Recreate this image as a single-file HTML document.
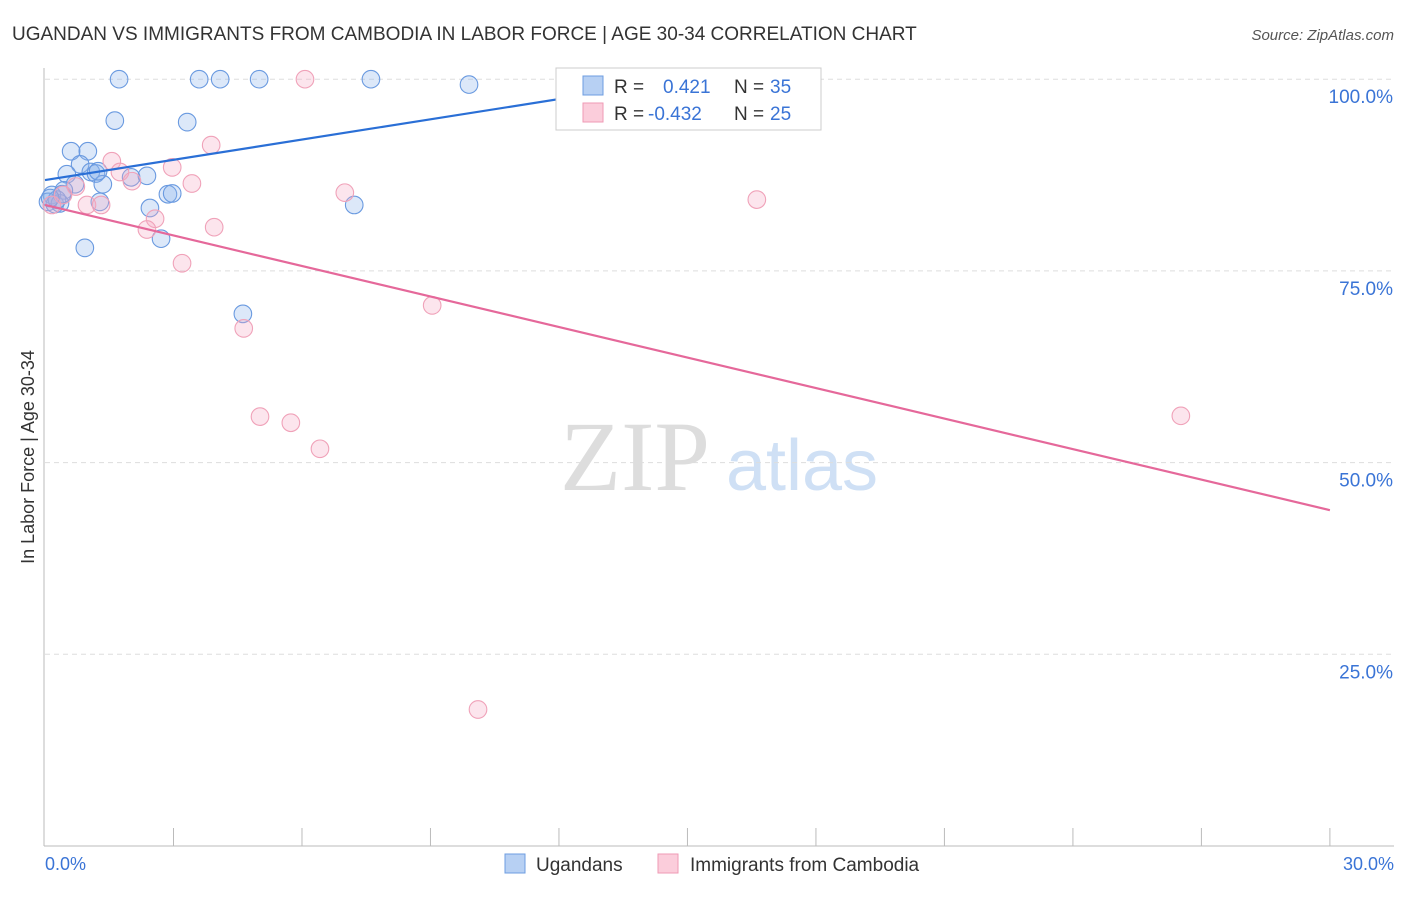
<!DOCTYPE html>
<html><head><meta charset="utf-8"><style>
body{margin:0;background:#fff;font-family:"Liberation Sans",sans-serif}
svg text{font-family:"Liberation Sans",sans-serif}
svg text.serif{font-family:"Liberation Serif",serif}
</style></head><body>
<svg id="chart" width="1406" height="892" xmlns="http://www.w3.org/2000/svg">
<text x="12" y="40" font-size="19" fill="#333">UGANDAN VS IMMIGRANTS FROM CAMBODIA IN LABOR FORCE | AGE 30-34 CORRELATION CHART</text>
<text x="1394" y="40" font-size="15" fill="#555" text-anchor="end" font-style="italic">Source: ZipAtlas.com</text>
<text transform="translate(34,457) rotate(-90)" font-size="18" fill="#333" text-anchor="middle">In Labor Force | Age 30-34</text>
<g><text class="serif" x="635" y="490" font-size="100" fill="#ddd" text-anchor="middle">ZIP</text><text x="802" y="490" font-size="72" fill="#cfe0f5" text-anchor="middle">atlas</text></g>
<g id="grid"></g><g id="ticks"></g><g id="pts"></g><g id="trends"></g>
<g>
<rect x="556" y="68" width="265" height="62" fill="#fff" stroke="#ccc"/>
<rect x="583" y="76" width="20" height="19" fill="#b7d0f3" stroke="#6d9de0"/>
<text x="614" y="93" font-size="19" fill="#333">R =</text><text x="663" y="93" font-size="19" fill="#3a74d6">0.421</text>
<text x="734" y="93" font-size="19" fill="#333">N =</text><text x="770" y="93" font-size="19" fill="#3a74d6">35</text>
<rect x="583" y="103" width="20" height="19" fill="#fbcddb" stroke="#ef9ab4"/>
<text x="614" y="120" font-size="19" fill="#333">R =</text><text x="648" y="120" font-size="19" fill="#3a74d6">-0.432</text>
<text x="734" y="120" font-size="19" fill="#333">N =</text><text x="770" y="120" font-size="19" fill="#3a74d6">25</text>
</g>
<g>
<rect x="505" y="854" width="20" height="19" fill="#b7d0f3" stroke="#6d9de0"/>
<text x="536" y="871" font-size="19" fill="#333">Ugandans</text>
<rect x="658" y="854" width="20" height="19" fill="#fbcddb" stroke="#ef9ab4"/>
<text x="690" y="871" font-size="19" fill="#333">Immigrants from Cambodia</text>
</g>
<text x="45" y="870" font-size="18" fill="#3a74d6">0.0%</text>
<text x="1394" y="870" font-size="18" fill="#3a74d6" text-anchor="end">30.0%</text>
</svg>
<script>
const yTicks=[100,75,50,25];
const yTickLabels=["100.0%","75.0%","50.0%","25.0%"];
const xTicks=[3,6,9,12,15,18,21,24,27,30];
const blueX=[1.73,3.6,4.09,5.0,7.61,9.9,1.63,3.32,0.61,1.0,0.82,0.51,1.07,1.19,2.01,1.35,0.7,2.38,0.44,0.16,0.07,0.23,0.35,1.28,2.45,2.87,2.97,7.22,2.71,0.93,4.62,0.28,0.4,0.12,1.24];
const blueY=[100,100,100,100,100,99.3,94.6,94.4,90.6,90.6,88.9,87.6,87.9,87.7,87.2,86.3,86.3,87.4,85.5,84.9,84.0,83.7,83.8,84.0,83.2,85.0,85.1,83.6,79.2,78.0,69.4,84.3,85.0,84.5,88.0];
const pinkX=[6.07,3.88,1.56,2.97,1.75,2.03,3.43,0.72,0.42,7.0,16.62,0.98,1.31,2.57,2.38,3.95,0.16,3.2,9.04,4.64,5.02,5.74,6.42,26.52,10.11];
const pinkY=[100,91.4,89.3,88.5,87.9,86.7,86.4,86.0,84.9,85.2,84.3,83.6,83.6,81.8,80.4,80.7,83.6,76.0,70.5,67.5,56.0,55.2,51.8,56.1,17.8];
const blueTrendX=[0,14.83];const blueTrendY=[86.85,99.9];
const pinkTrendX=[0,30];const pinkTrendY=[83.6,43.8];
const NS="http://www.w3.org/2000/svg";
const sx=v=>45+v*42.83, sy=v=>846-v*7.668;
function mk(p,t,a){const e=document.createElementNS(NS,t);for(const k in a)e.setAttribute(k,a[k]);document.getElementById(p).appendChild(e);return e;}
let e=mk('grid','line',{x1:44,y1:68,x2:44,y2:846,stroke:'#bbb'});


e=mk('grid','line',{x1:44,y1:846,x2:1394,y2:846,stroke:'#bbb'});


yTicks.forEach((t,i)=>{
 let g=mk('grid','line',{x1:45,y1:sy(t),x2:1394,y2:sy(t),stroke:'#ddd','stroke-dasharray':'5,4'});
 
 
 let l=mk('ticks','text',{x:1393,y:sy(t)+24,'font-size':19,fill:'#3a74d6','text-anchor':'end'});
 l.textContent=yTickLabels[i];
 
 
});
xTicks.forEach(t=>{
 let k=mk('ticks','line',{x1:sx(t),y1:828,x2:sx(t),y2:846,stroke:'#bbb'});
 
 
});
blueX.forEach((x,i)=>{
 let c=mk('pts','circle',{cx:sx(x),cy:sy(blueY[i]),r:8.8,fill:'rgba(140,180,235,0.3)',stroke:'#6a9ae0','stroke-width':1.1});
 
 
});
pinkX.forEach((x,i)=>{
 let c=mk('pts','circle',{cx:sx(x),cy:sy(pinkY[i]),r:8.8,fill:'rgba(245,170,195,0.3)',stroke:'#f0a2b9','stroke-width':1.1});
 
 
});
e=mk('trends','line',{x1:sx(blueTrendX[0]),y1:sy(blueTrendY[0]),x2:sx(blueTrendX[1]),y2:sy(blueTrendY[1]),stroke:'#2a6fd6','stroke-width':2.2});


e=mk('trends','line',{x1:sx(pinkTrendX[0]),y1:sy(pinkTrendY[0]),x2:sx(pinkTrendX[1]),y2:sy(pinkTrendY[1]),stroke:'#e5689a','stroke-width':2.2});


</script>
</body></html>
